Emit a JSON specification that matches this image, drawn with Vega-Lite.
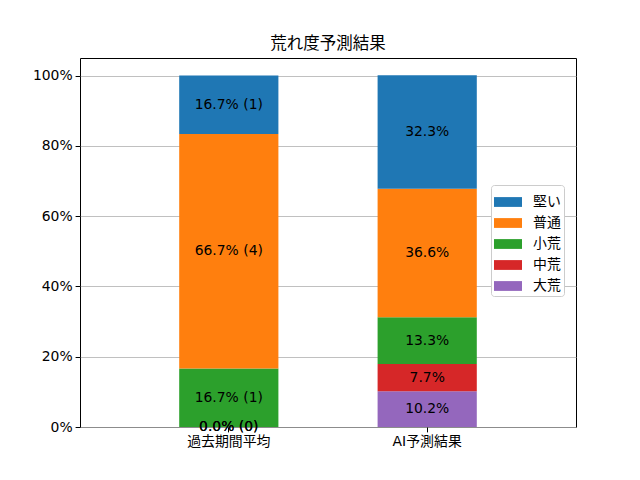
{
  "$schema": "https://vega.github.io/schema/vega-lite/v6.json",
  "autosize": "none",
  "width": 496,
  "height": 369,
  "padding": {"left": 80, "top": 58, "right": 64, "bottom": 53},
  "background": "white",
  "config": {
    "font": "DejaVu Sans, Noto Sans CJK JP",
    "view": {"stroke": "black", "strokeWidth": 1},
    "axis": {"labelFont": "DejaVu Sans, Noto Sans CJK JP", "labelFontSize": 13.9, "labelColor": "black", "tickColor": "black", "tickSize": 4.9, "domainColor": "black", "domainWidth": 1, "labelPadding": 3}
  },
  "title": {"text": "荒れ度予測結果", "fontSize": 16.5, "fontWeight": "normal", "font": "DejaVu Sans, Noto Sans CJK JP", "color": "black", "offset": 6, "anchor": "middle"},
  "data": {
    "values": [
      {"category": "過去期間平均", "type": "大荒", "rank": 1, "value": 0, "label": "0.0% (0)"},
      {"category": "過去期間平均", "type": "中荒", "rank": 2, "value": 0, "label": "0.0% (0)"},
      {"category": "過去期間平均", "type": "小荒", "rank": 3, "value": 16.67, "label": "16.7% (1)"},
      {"category": "過去期間平均", "type": "普通", "rank": 4, "value": 66.67, "label": "66.7% (4)"},
      {"category": "過去期間平均", "type": "堅い", "rank": 5, "value": 16.67, "label": "16.7% (1)"},
      {"category": "AI予測結果", "type": "大荒", "rank": 1, "value": 10.2, "label": "10.2%"},
      {"category": "AI予測結果", "type": "中荒", "rank": 2, "value": 7.7, "label": "7.7%"},
      {"category": "AI予測結果", "type": "小荒", "rank": 3, "value": 13.3, "label": "13.3%"},
      {"category": "AI予測結果", "type": "普通", "rank": 4, "value": 36.6, "label": "36.6%"},
      {"category": "AI予測結果", "type": "堅い", "rank": 5, "value": 32.3, "label": "32.3%"}
    ]
  },
  "transform": [
    {"stack": "value", "groupby": ["category"], "sort": [{"field": "rank", "order": "ascending"}], "as": ["y0", "y1"]},
    {"calculate": "(datum.y0 + datum.y1) / 2", "as": "mid"}
  ],
  "encoding": {
    "x": {
      "field": "category", "type": "nominal", "sort": ["過去期間平均", "AI予測結果"],
      "scale": {"paddingInner": 0.5, "paddingOuter": 0.5},
      "axis": {"title": null, "labelAngle": 0, "domain": false}
    }
  },
  "layer": [
    {
      "mark": {"type": "bar"},
      "encoding": {
        "y": {
          "field": "y0", "type": "quantitative",
          "scale": {"domain": [0, 105], "nice": false, "zero": true},
          "axis": {"title": null, "values": [0, 20, 40, 60, 80, 100], "labelExpr": "datum.value + '%'", "grid": true, "gridColor": "#b0b0b0", "gridWidth": 0.8, "domain": false}
        },
        "y2": {"field": "y1"},
        "color": {
          "field": "type", "type": "nominal",
          "scale": {"domain": ["堅い", "普通", "小荒", "中荒", "大荒"], "range": ["#1f77b4", "#ff7f0e", "#2ca02c", "#d62728", "#9467bd"]},
          "legend": {
            "title": null, "orient": "none", "legendX": 411, "legendY": 127,
            "symbolType": "M-1,-0.35L1,-0.35L1,0.35L-1,0.35Z", "symbolSize": 784, "symbolStrokeWidth": 0,
            "labelFontSize": 13.9, "labelFont": "DejaVu Sans, Noto Sans CJK JP", "labelColor": "black",
            "rowPadding": 0, "padding": 3, "strokeColor": "#cccccc", "fillColor": "white", "cornerRadius": 3,
            "labelOffset": 11
          }
        }
      }
    },
    {
      "mark": {"type": "text", "fontSize": 13.9, "color": "black", "font": "DejaVu Sans, Noto Sans CJK JP", "baseline": "middle", "align": "center"},
      "encoding": {
        "y": {"field": "mid", "type": "quantitative"},
        "text": {"field": "label"}
      }
    }
  ]
}
